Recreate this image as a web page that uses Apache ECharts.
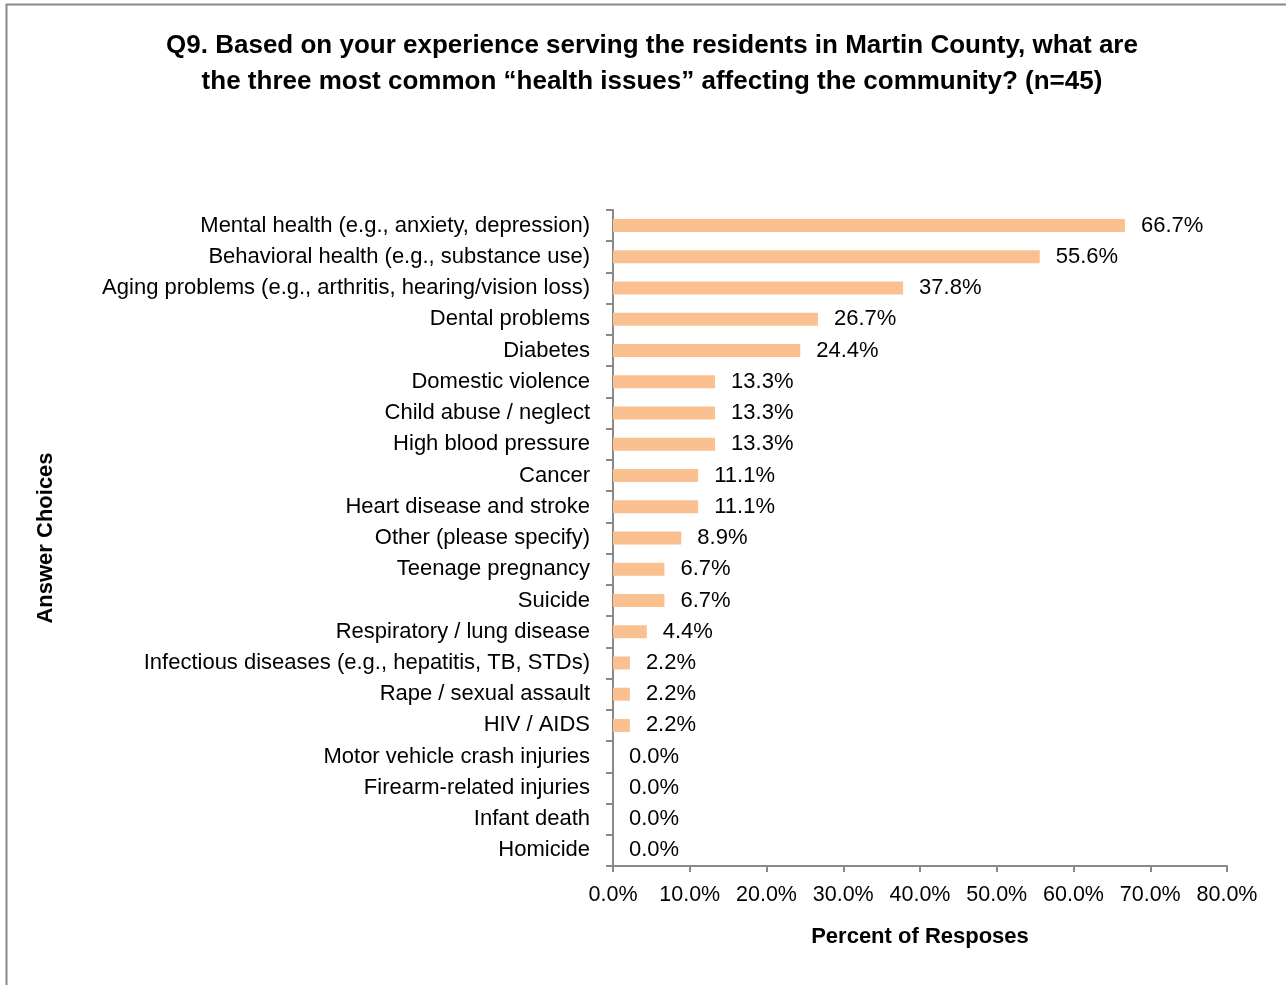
<!DOCTYPE html>
<html><head><meta charset="utf-8">
<script src="https://cdn.jsdelivr.net/npm/echarts@6/dist/echarts.min.js"></script>
<style>html,body{margin:0;padding:0;background:#fff}#c{width:1286px;height:985px}</style>
</head><body><div id="c"></div>
<script>
const categories = [
  "Mental health (e.g., anxiety, depression)",
  "Behavioral health (e.g., substance use)",
  "Aging problems (e.g., arthritis, hearing/vision loss)",
  "Dental problems",
  "Diabetes",
  "Domestic violence",
  "Child abuse / neglect",
  "High blood pressure",
  "Cancer",
  "Heart disease and stroke",
  "Other (please specify)",
  "Teenage pregnancy",
  "Suicide",
  "Respiratory / lung disease",
  "Infectious diseases (e.g., hepatitis, TB, STDs)",
  "Rape / sexual assault",
  "HIV / AIDS",
  "Motor vehicle crash injuries",
  "Firearm-related injuries",
  "Infant death",
  "Homicide"
];
const percentValues = [66.7, 55.6, 37.8, 26.7, 24.4, 13.3, 13.3, 13.3, 11.1, 11.1, 8.9, 6.7, 6.7, 4.4, 2.2, 2.2, 2.2, 0.0, 0.0, 0.0, 0.0];
const xTicks = [0, 10, 20, 30, 40, 50, 60, 70, 80];
const titleLines = [
  "Q9. Based on your experience serving the residents in Martin County, what are",
  "the three most common \u201chealth issues\u201d affecting the community? (n=45)"
];
const xAxisTitle = "Percent of Resposes";
const yAxisTitle = "Answer Choices";

const FONT = '"Liberation Sans", Arial, sans-serif';
const chart = echarts.init(document.getElementById('c'), null, {renderer: 'canvas'});
chart.setOption({
  backgroundColor: '#ffffff',
  animation: false,
  textStyle: {fontFamily: FONT},
  title: {
    text: titleLines.join('\n'),
    left: 647, top: 23, textAlign: 'center',
    textStyle: {fontFamily: FONT, fontWeight: 'bold', fontSize: 26, lineHeight: 36, color: '#000'}
  },
  graphic: [{
    type: 'rect', shape: {x: 6.5, y: 4.5, width: 1400, height: 1100},
    style: {fill: null, stroke: '#888888', lineWidth: 2}, silent: true
  }],
  grid: {left: 613, right: 59, top: 210, bottom: 119, containLabel: false, outerBoundsMode: 'none'},
  xAxis: {
    type: 'value', min: 0, max: 80, interval: 10,
    name: xAxisTitle, nameLocation: 'middle', nameGap: 60,
    nameTextStyle: {fontFamily: FONT, fontWeight: 'bold', fontSize: 22, color: '#000'},
    axisLine: {show: true, lineStyle: {color: '#898989', width: 2}},
    axisTick: {show: true, length: 6, lineStyle: {color: '#898989', width: 2}},
    splitLine: {show: false},
    axisLabel: {margin: 18, fontSize: 21.5, color: '#000', fontFamily: FONT,
      formatter: v => xTicks.includes(v) ? v.toFixed(1) + '%' : ''}
  },
  yAxis: {
    type: 'category', data: categories, inverse: true,
    name: yAxisTitle, nameLocation: 'middle', nameGap: 556, nameRotate: 90,
    nameTextStyle: {fontFamily: FONT, fontWeight: 'bold', fontSize: 22, color: '#000'},
    axisLine: {show: true, lineStyle: {color: '#898989', width: 2}},
    axisTick: {show: true, length: 7, lineStyle: {color: '#898989', width: 2}},
    axisLabel: {margin: 23, fontSize: 22, color: '#000', fontFamily: FONT, interval: 0}
  },
  series: [{
    type: 'bar', data: percentValues, barWidth: 13,
    itemStyle: {color: '#FAC090'},
    label: {show: true, position: 'right', distance: 16, fontSize: 22, color: '#000', fontFamily: FONT,
      formatter: p => p.value.toFixed(1) + '%'}
  }]
});
</script></body></html>
